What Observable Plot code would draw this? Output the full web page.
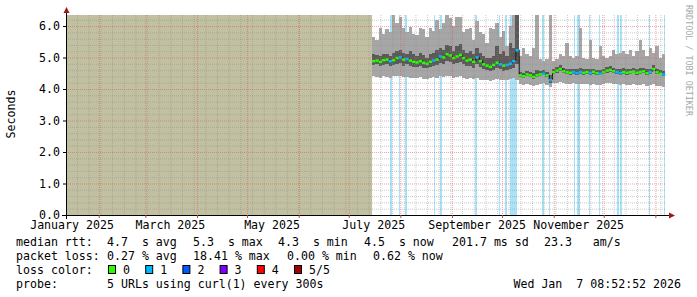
<!DOCTYPE html>
<html><head><meta charset="utf-8">
<script src="https://cdn.jsdelivr.net/npm/d3@7"></script>
<script src="https://cdn.jsdelivr.net/npm/@observablehq/plot@0.6"></script>
<style>
html,body{margin:0;padding:0;background:#fff;}
#chart svg{display:block;}
</style></head><body><div id="chart"></div>
<script>
// ---- data ----
const xDomain = ["2025-01-12T08:52:52Z", "2026-01-07T08:52:52Z"];
const yDomain = [0, 6.35];
const yTicks = [0, 1, 2, 3, 4, 5, 6];
const yTickLabels = ["0.0", "1.0", "2.0", "3.0", "4.0", "5.0", "6.0"];
const xLabelMonths = ["2025-01-01", "2025-03-01", "2025-05-01", "2025-07-01", "2025-09-01", "2025-11-01"];
const xLabels = ["January 2025", "March 2025", "May 2025", "July 2025", "September 2025", "November 2025"];
const dataStart = "2025-07-15";
const stepDays = 2;

const smokeMax = [5.65,5.55,5.95,5.75,5.90,5.80,6.35,6.10,6.30,5.95,
 5.80,5.98,5.75,5.70,5.95,5.90,5.65,5.95,5.85,6.20,
 5.90,6.10,6.35,6.25,6.00,6.30,6.30,5.80,5.90,5.95,
 5.55,6.15,5.80,5.75,5.45,5.95,5.90,6.10,5.65,5.85,
 5.35,6.00,6.35,6.40,
 5.05,5.30,5.10,5.05,5.30,6.35,4.95,4.90,4.95,6.35,
 4.90,4.95,5.10,5.05,5.45,5.05,5.00,5.05,5.95,5.00,
 4.95,5.55,5.00,4.95,5.35,5.05,5.00,5.05,5.25,5.10,
 5.15,5.20,5.10,5.25,5.05,5.20,5.55,5.25,5.05,5.30,
 5.15,5.35,5.00,5.10];
const smokeUpper = [5.10,5.08,5.05,5.12,5.10,5.05,5.15,5.20,5.25,5.15,
 5.12,5.20,5.10,5.05,5.15,5.08,5.00,5.10,5.15,5.25,
 5.30,5.25,5.40,5.35,5.22,5.38,5.42,5.25,5.15,5.20,
 5.10,5.30,5.15,5.05,5.00,4.98,5.05,5.35,5.10,5.20,
 5.05,5.45,5.30,6.40,
 4.55,4.50,4.58,4.55,4.50,4.60,4.58,4.60,4.55,4.45,
 4.65,4.70,4.75,4.68,4.65,4.62,4.65,4.62,4.68,4.62,
 4.64,4.62,4.65,4.60,4.60,4.64,4.70,4.72,4.68,4.64,
 4.62,4.66,4.62,4.64,4.67,4.62,4.66,4.68,4.62,4.65,
 4.75,4.64,4.60,4.58];
const median = [4.90,4.92,4.88,4.93,4.95,4.90,4.93,5.00,5.02,4.95,
 4.97,4.92,4.88,4.86,4.90,4.85,4.82,4.88,4.92,4.95,
 5.05,5.02,5.12,5.08,5.00,5.05,5.10,5.00,4.92,4.95,
 4.88,5.02,4.90,4.80,4.76,4.72,4.78,4.85,4.80,4.76,
 4.78,4.82,4.90,5.25,
 4.45,4.42,4.48,4.45,4.40,4.45,4.48,4.50,4.45,4.30,
 4.55,4.60,4.65,4.58,4.55,4.53,4.55,4.52,4.55,4.53,
 4.55,4.52,4.56,4.52,4.50,4.55,4.60,4.62,4.58,4.55,
 4.52,4.55,4.53,4.55,4.57,4.53,4.55,4.58,4.52,4.55,
 4.65,4.55,4.50,4.48];
const smokeLower = [4.75,4.78,4.72,4.76,4.78,4.72,4.75,4.80,4.82,4.74,
 4.78,4.74,4.70,4.70,4.72,4.68,4.66,4.70,4.74,4.75,
 4.82,4.80,4.88,4.85,4.80,4.82,4.85,4.78,4.72,4.74,
 4.68,4.78,4.70,4.62,4.60,4.56,4.60,4.66,4.62,4.58,
 4.60,4.62,4.68,4.80,
 4.38,4.35,4.40,4.38,4.33,4.38,4.40,4.43,4.38,4.20,
 4.47,4.52,4.57,4.50,4.48,4.46,4.48,4.45,4.47,4.46,
 4.48,4.45,4.49,4.45,4.43,4.48,4.52,4.55,4.50,4.48,
 4.45,4.48,4.46,4.48,4.50,4.46,4.48,4.50,4.45,4.48,
 4.57,4.47,4.43,4.40];
const smokeMin = [4.40,4.38,4.35,4.40,4.38,4.36,4.40,4.42,4.40,4.37,
 4.38,4.35,4.34,4.36,4.38,4.33,4.32,4.35,4.38,4.36,
 4.40,4.38,4.42,4.40,4.36,4.38,4.40,4.35,4.33,4.36,
 4.32,4.35,4.30,4.28,4.30,4.27,4.30,4.33,4.30,4.28,
 4.30,4.32,4.35,4.30,
 4.15,4.12,4.15,4.13,4.10,4.12,4.15,4.18,4.12,4.05,
 4.18,4.20,4.22,4.18,4.15,4.17,4.18,4.15,4.16,4.15,
 4.17,4.13,4.16,4.14,4.12,4.15,4.18,4.20,4.16,4.15,
 4.13,4.15,4.12,4.14,4.16,4.12,4.14,4.15,4.10,4.12,
 4.15,4.10,4.08,4.06];

// days with 1/5 packet loss
const lossDays = ["2025-07-26","2025-07-31","2025-08-04","2025-08-21","2025-08-25","2025-09-15",
 "2025-09-29","2025-10-03","2025-10-06","2025-10-07","2025-10-08","2025-10-09","2025-10-25",
 "2025-10-29","2025-11-13","2025-11-15","2025-11-16","2025-11-22","2025-11-28","2025-12-09",
 "2025-12-11","2025-12-28","2026-01-06"];

const lossColors = ["#26ff00", "#00b8ff", "#0059ff", "#7e00ff", "#ff0000", "#a10000"];
const lossLabels = ["0", "1", "2", "3", "4", "5/5"];

const statsRtt = [["median rtt:", 16], ["4.7  s avg", 107], ["5.3  s max", 193], ["4.3  s min", 278], ["4.5  s now", 364], ["201.7 ms sd", 452], ["23.3   am/s", 544]];
const statsLoss = [["packet loss:", 16], ["0.27 % avg", 107], ["18.41 % max", 193], ["0.00 % min", 287], ["0.62 % now", 373]];
const probeText = "5 URLs using curl(1) every 300s";
const stampText = "Wed Jan  7 08:52:52 2026";

// ---- build ----
const FONT = "'DejaVu Sans Mono', monospace";
const xStart = new Date(xDomain[0]), xEnd = new Date(xDomain[1]);
const lossSet = lossDays.map(d => new Date(d));
const samples = median.map((m, i) => {
  const x1 = d3.utcDay.offset(new Date(dataStart), i * stepDays);
  const x2 = d3.utcDay.offset(x1, stepDays);
  const loss = lossSet.some(d => d >= x1 && d < x2);
  return {x1, x2, max: smokeMax[i], upper: smokeUpper[i], median: m, lower: smokeLower[i], min: smokeMin[i], color: loss ? lossColors[1] : lossColors[0]};
});
const minorY = d3.range(1, 32).map(k => k / 5).filter(v => Math.abs(v - Math.round(v)) > 1e-6);
const months = d3.utcMonth.range(xStart, xEnd);
const weeks = d3.utcSunday.range(xStart, xEnd);

const LIGHT = "#a6a6a6", DARK = "#5a5a5a";
const chart = Plot.plot({
  width: 697, height: 297,
  marginLeft: 66, marginRight: 31, marginTop: 15, marginBottom: 82,
  x: {type: "utc", domain: [xStart, xEnd], axis: null},
  y: {domain: yDomain, axis: null},
  color: {type: "identity"},
  style: {background: "#fff", overflow: "visible"},
  marks: [
    Plot.rect([{a: xStart, b: new Date(dataStart)}], {x1: "a", x2: "b", y1: yDomain[0], y2: yDomain[1], fill: "#c1c0a1"}),
    Plot.rect(lossSet, {x1: d => d, x2: d => d3.utcDay.offset(d, 1), y1: yDomain[0], y2: yDomain[1], fill: "#a8e2f8", shapeRendering: "crispEdges"}),
    Plot.rect(samples, {x1: "x1", x2: "x2", y1: "min", y2: "lower", fill: LIGHT, shapeRendering: "crispEdges", clip: true}),
    Plot.rect(samples, {x1: "x1", x2: "x2", y1: "upper", y2: "max", fill: LIGHT, shapeRendering: "crispEdges", clip: true}),
    Plot.rect(samples, {x1: "x1", x2: "x2", y1: "lower", y2: "upper", fill: DARK, shapeRendering: "crispEdges", clip: true}),
    Plot.ruleX(samples.slice(1), {x: "x1", y1: (d, i) => samples[i].median, y2: "median", stroke: "#111", strokeWidth: 1}),
    Plot.ruleY(samples, {y: "median", x1: "x1", x2: "x2", stroke: "color", strokeWidth: 2.5}),
    // grid on top
    Plot.ruleY(minorY, {stroke: "#8c8c8c", strokeOpacity: 0.45, strokeDasharray: "1,1"}),
    Plot.ruleX(weeks, {stroke: "#8c8c8c", strokeOpacity: 0.45, strokeDasharray: "1,1"}),
    Plot.ruleY(yTicks.filter(v => v > 0), {stroke: "#e05050", strokeOpacity: 0.5, strokeDasharray: "1,1"}),
    Plot.ruleX(months, {stroke: "#e05050", strokeOpacity: 0.5, strokeDasharray: "1,1"})
  ]
});
document.getElementById("chart").appendChild(chart);

const X = chart.scale("x"), Y = chart.scale("y");
const svg = d3.select(chart);
const g = svg.append("g").attr("font-family", FONT).attr("font-size", 11.6).attr("fill", "#000").attr("text-anchor", "start");
const y0 = Y.apply(0), xL = X.apply(xStart), xR = X.apply(xEnd);

// axes
g.append("line").attr("x1", xL - 4).attr("x2", xR + 3).attr("y1", y0 + 0.5).attr("y2", y0 + 0.5).attr("stroke", "#000");
g.append("line").attr("x1", xL + 0.5).attr("x2", xL + 0.5).attr("y1", y0 + 4).attr("y2", Y.apply(yDomain[1]) - 4).attr("stroke", "#000");
g.append("path").attr("d", `M${xR + 3},${y0 - 2.5}L${xR + 9},${y0 + 0.5}L${xR + 3},${y0 + 3.5}Z`).attr("fill", "#a01818");
const yt = Y.apply(yDomain[1]);
g.append("path").attr("d", `M${xL - 2.5},${yt - 2}L${xL + 0.5},${yt - 8}L${xL + 3.5},${yt - 2}Z`).attr("fill", "#a01818");
// ticks
for (const v of yTicks) {
  g.append("line").attr("x1", xL - 3).attr("x2", xL).attr("y1", Y.apply(v) + 0.5).attr("y2", Y.apply(v) + 0.5).attr("stroke", "#000");
}
for (const m of months) {
  g.append("line").attr("x1", X.apply(m) + 0.5).attr("x2", X.apply(m) + 0.5).attr("y1", y0).attr("y2", y0 + 3).attr("stroke", "#c04040");
}
// tick labels
yTicks.forEach((v, i) => {
  g.append("text").attr("x", 60).attr("y", Y.apply(v) + 4).attr("text-anchor", "end").text(yTickLabels[i]);
});
xLabelMonths.forEach((m, i) => {
  g.append("text").attr("x", X.apply(d3.utcDay.offset(new Date(m), 15))).attr("y", 228.5).attr("text-anchor", "middle").text(xLabels[i]);
});
// y title
g.append("text").attr("transform", "translate(14.5,114) rotate(-90)").attr("text-anchor", "middle").text("Seconds");
// watermark
g.append("text").attr("transform", "translate(685.5,5) rotate(90)").attr("text-anchor", "start").attr("font-size", 8.4).attr("fill", "#a8a8a8").text("RRDTOOL / TOBI OETIKER");

// legend
const pre = sel => sel.attr("xml:space", "preserve").style("white-space", "pre");
for (const [t, x] of statsRtt) pre(g.append("text").attr("x", x).attr("y", 245.5)).text(t);
for (const [t, x] of statsLoss) pre(g.append("text").attr("x", x).attr("y", 259.5)).text(t);
g.append("text").attr("x", 16).attr("y", 273.5).text("loss color:");
lossColors.forEach((c, i) => {
  const x = 108.5 + i * 37.2;
  g.append("rect").attr("x", x).attr("y", 265.5).attr("width", 7).attr("height", 8).attr("fill", c).attr("stroke", "#000");
  g.append("text").attr("x", x + 14.5).attr("y", 273.5).text(lossLabels[i]);
});
g.append("text").attr("x", 16).attr("y", 287.5).text("probe:");
g.append("text").attr("x", 107).attr("y", 287.5).text(probeText);
pre(g.append("text").attr("x", 681).attr("y", 287.5).attr("text-anchor", "end")).text(stampText);
</script></body></html>
